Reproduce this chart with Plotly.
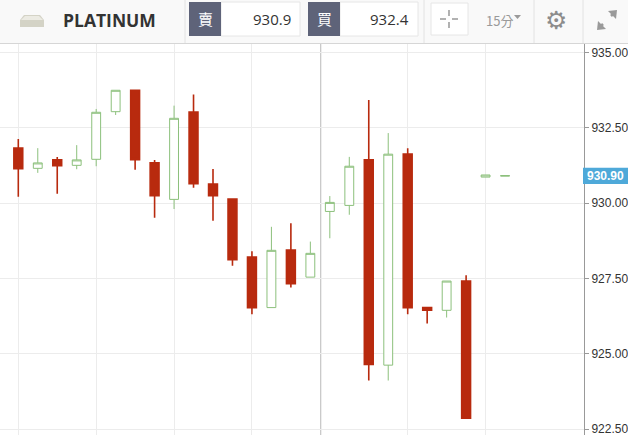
import plotly.graph_objects as go

# 15 minute bars
bar_idx = list(range(26))
open_ = [931.82, 931.15, 931.43, 931.25, 931.45, 933.03, 933.74, 931.33, 930.12, 933.02,
         930.63, 930.13, 928.21, 926.53, 928.44, 927.54, 929.72, 929.92, 931.43, 924.62,
         931.62, 926.53, 926.44, 927.41, 930.86, 930.89]
high = [932.12, 931.82, 931.53, 931.92, 933.12, 933.74, 933.74, 931.43, 933.23, 933.60,
        931.13, 930.13, 928.40, 929.21, 929.33, 928.72, 930.23, 931.53, 933.42, 932.32,
        931.82, 926.53, 927.41, 927.60, 930.93, 930.91]
low = [930.21, 931.00, 930.31, 931.12, 931.22, 932.92, 931.10, 929.51, 929.80, 930.51,
       929.41, 927.92, 926.31, 926.53, 927.20, 927.54, 928.83, 929.61, 924.11, 924.11,
       926.31, 926.00, 926.20, 922.83, 930.86, 930.89]
close = [931.14, 931.33, 931.24, 931.43, 933.01, 933.74, 931.44, 930.24, 932.81, 930.64,
         930.24, 928.12, 926.53, 928.43, 927.32, 928.33, 930.02, 931.22, 924.64, 931.62,
         926.53, 926.44, 927.41, 922.86, 930.93, 930.91]

y_ticks = [922.5, 925.0, 927.5, 930.0, 932.5, 935.0]
grid_x = [0, 4, 8, 12, 20, 24]
last_price = 930.90
sell_price = "930.9"
buy_price = "932.4"
symbol = "PLATINUM"
interval = "15分"

RED = "#b82a0e"
GREEN = "#8cc07c"

W, H = 628, 435
T, R = 44, 44


def px(x):
    return x / (W - R)


def py(y):
    return (H - y) / (H - T)


def note(x, y, text, font, xanchor="center", yref="paper"):
    # anchors set explicitly, "auto" moves things around outside the plot
    return dict(x=x, y=y, xref="paper", yref=yref, text=text, showarrow=False,
                xanchor=xanchor, yanchor="middle", font=font)


fig = go.Figure()
fig.add_trace(go.Candlestick(
    x=bar_idx, open=open_, high=high, low=low, close=close,
    increasing=dict(line=dict(color=GREEN, width=1), fillcolor="white"),
    decreasing=dict(line=dict(color=RED, width=1.6), fillcolor=RED),
    hoverinfo="skip", showlegend=False,
))

shapes = []
anns = []

# dark vertical marker line
shapes.append(dict(type="line", xref="x", yref="paper", x0=15.53, x1=15.53, y0=0, y1=1,
                   line=dict(color="#c9c9c9", width=1.3), layer="below"))

# header
shapes.append(dict(type="rect", xref="paper", yref="paper", x0=px(0), x1=px(W), y0=py(43.5), y1=py(0),
                   fillcolor="#f9f9f9", line=dict(width=0), layer="below"))
shapes.append(dict(type="line", xref="paper", yref="paper", x0=px(0), x1=px(W), y0=py(43.5), y1=py(43.5),
                   line=dict(color="#d6d6d6", width=1.2)))
for sx in [185, 424, 534, 583]:
    shapes.append(dict(type="line", xref="paper", yref="paper", x0=px(sx), x1=px(sx), y0=py(0), y1=py(43),
                       line=dict(color="#e2e2e2", width=1)))

# platinum bar icon
shapes.append(dict(type="path", xref="paper", yref="paper",
                   path=f"M {px(20)},{py(27)} L {px(44)},{py(27)} L {px(44)},{py(20)} L {px(40)},{py(15)} "
                        f"L {px(24)},{py(15)} L {px(20)},{py(20)} Z",
                   fillcolor="#d4d3c6", line=dict(width=0)))
shapes.append(dict(type="path", xref="paper", yref="paper",
                   path=f"M {px(21)},{py(20)} L {px(43)},{py(20)} L {px(39)},{py(16)} L {px(25)},{py(16)} Z",
                   fillcolor="#ecebe3", line=dict(width=0)))
anns.append(note(px(61), py(20), f"<b>{symbol}</b>",
                 dict(family="Open Sans", size=17.5, color="#333333"), xanchor="left"))

# sell / buy boxes
for lx0, lx1, vx1, lab, val in [(189, 221, 300, "賣", sell_price), (308, 340, 418, "買", buy_price)]:
    shapes.append(dict(type="rect", xref="paper", yref="paper", x0=px(lx1), x1=px(vx1), y0=py(36), y1=py(2),
                       fillcolor="white", line=dict(color="#e6e6e6", width=1)))
    shapes.append(dict(type="rect", xref="paper", yref="paper", x0=px(lx0), x1=px(lx1), y0=py(36), y1=py(2),
                       fillcolor="#5e6379", line=dict(width=0)))
    anns.append(note(px((lx0 + lx1) / 2), py(19), lab,
                     dict(family="Noto Sans CJK TC", size=15, color="white")))
    anns.append(note(px(vx1 - 7), py(19), val,
                     dict(family="Open Sans", size=15, color="#333333"), xanchor="right"))

# crosshair button
shapes.append(dict(type="rect", xref="paper", yref="paper", x0=px(431), x1=px(468), y0=py(35), y1=py(3),
                   fillcolor="white", line=dict(color="#e6e6e6", width=1)))
for (ax, ay, bx, by) in [(440, 19, 446, 19), (452, 19, 458, 19), (449, 10, 449, 16), (449, 22, 449, 28)]:
    shapes.append(dict(type="line", xref="paper", yref="paper", x0=px(ax), x1=px(bx), y0=py(ay), y1=py(by),
                       line=dict(color="#888888", width=1.3)))

# interval selector
anns.append(note(px(499), py(20), interval, dict(family="Noto Sans CJK TC", size=13, color="#9a9a9a")))
shapes.append(dict(type="path", xref="paper", yref="paper",
                   path=f"M {px(514)},{py(15)} L {px(521)},{py(15)} L {px(517.5)},{py(19)} Z",
                   fillcolor="#9a9a9a", line=dict(width=0)))

# gear
anns.append(note(px(556), py(20), "⚙", dict(family="DejaVu Sans", size=25, color="#8c8c8c")))

# expand arrows
for (ax, ay, bx, by) in [(603, 24, 599, 28), (611, 16, 615, 12)]:
    shapes.append(dict(type="line", xref="paper", yref="paper", x0=px(ax), x1=px(bx), y0=py(ay), y1=py(by),
                       line=dict(color="#9a9a9a", width=2.5)))
shapes.append(dict(type="path", xref="paper", yref="paper",
                   path=f"M {px(617)},{py(10)} L {px(608)},{py(11)} L {px(616)},{py(19)} Z",
                   fillcolor="#9a9a9a", line=dict(width=0)))
shapes.append(dict(type="path", xref="paper", yref="paper",
                   path=f"M {px(597)},{py(30)} L {px(606)},{py(29)} L {px(598)},{py(21)} Z",
                   fillcolor="#9a9a9a", line=dict(width=0)))

# last price tag
shapes.append(dict(type="rect", xref="paper", yref="y", x0=px(583), x1=px(W),
                   y0=last_price - 0.27, y1=last_price + 0.27,
                   fillcolor="#4ea9d9", line=dict(width=0)))
anns.append(note(px(605.5), last_price, f"<b>{last_price:.2f}</b>",
                 dict(family="Liberation Sans", size=12, color="white"), yref="y"))

y_top = 930 + (203 - T) / 30.14
y_bot = 930 - (H - 203) / 30.14
x_left = -18.3 / 19.47
x_right = (W - R - 18.3) / 19.47

fig.update_layout(
    width=W, height=H,
    margin=dict(l=0, r=R, t=T, b=0, pad=0),
    paper_bgcolor="white", plot_bgcolor="white",
    boxgap=0.35,
    hovermode=False,
    shapes=shapes, annotations=anns,
    xaxis=dict(range=[x_left, x_right], tickvals=grid_x, showticklabels=False, showgrid=True,
               gridcolor="#ececec", gridwidth=1, zeroline=False, showline=False, ticks="",
               rangeslider=dict(visible=False), fixedrange=True),
    yaxis=dict(range=[y_bot, y_top], side="right", tickvals=y_ticks, automargin=False,
               ticktext=[f"{v:.2f}" for v in y_ticks], showgrid=True, gridcolor="#ececec",
               zeroline=False, showline=True, linecolor="#999999", linewidth=1,
               ticks="outside", ticklen=4, tickcolor="#999999", ticklabeloverflow="allow",
               tickfont=dict(family="Liberation Sans", size=12, color="#333333"), fixedrange=True),
)

# page body has an 8px margin by default
fig.write_html("out.html", config=dict(displayModeBar=False),
               post_script="document.body.style.margin='0';document.body.style.overflow='hidden';")
